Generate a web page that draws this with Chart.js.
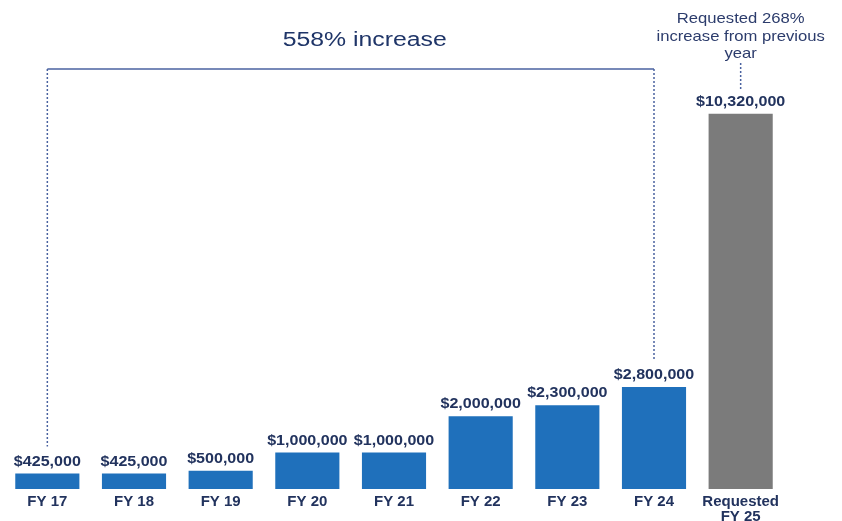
<!DOCTYPE html>
<html>
<head>
<meta charset="utf-8">
<script src="https://cdn.jsdelivr.net/npm/chart.js@4"></script>
<style>
  html, body { margin: 0; padding: 0; background: #ffffff; }
  #wrap { width: 842px; height: 521px; position: relative; }
</style>
</head>
<body>
<div id="wrap"><canvas id="c"></canvas></div>
<script>
// Budget by fiscal year
const categories = ['FY 17', 'FY 18', 'FY 19', 'FY 20', 'FY 21', 'FY 22', 'FY 23', 'FY 24', ['Requested', 'FY 25']];
const amounts = [425000, 425000, 500000, 1000000, 1000000, 2000000, 2300000, 2800000, 10320000];
const barColors = ['#1f70bb', '#1f70bb', '#1f70bb', '#1f70bb', '#1f70bb', '#1f70bb', '#1f70bb', '#1f70bb', '#7b7b7b'];
const valueLabels = ['$425,000', '$425,000', '$500,000', '$1,000,000', '$1,000,000', '$2,000,000', '$2,300,000', '$2,800,000', '$10,320,000'];
const bracketText = '558% increase';
const requestNote = ['Requested 268%', 'increase from previous', 'year'];

const NAVY = '#22335e';
const LINE = '#4a62a0';

// text drawn with a slight horizontal stretch
function wideText(ctx, text, x, y, sx) {
  ctx.save();
  ctx.translate(x, y);
  ctx.scale(sx, 1);
  ctx.fillText(text, 0, 0);
  ctx.restore();
}

const annotations = {
  id: 'annotations',
  afterDatasetsDraw(chart) {
    const ctx = chart.ctx;
    const bars = chart.getDatasetMeta(0).data;

    // value labels above each bar
    ctx.save();
    ctx.fillStyle = NAVY;
    ctx.font = 'bold 15px "Liberation Sans", Arial, sans-serif';
    ctx.textAlign = 'center';
    ctx.textBaseline = 'middle';
    bars.forEach((b, i) => wideText(ctx, valueLabels[i], b.x, b.y - 12, 1.07));
    ctx.restore();

    // bracket from the first year to FY 24
    const first = bars[0], last = bars[7];
    const topY = 69;
    ctx.save();
    ctx.strokeStyle = LINE;
    ctx.lineWidth = 1.5;
    ctx.beginPath();
    ctx.moveTo(first.x, topY);
    ctx.lineTo(last.x, topY);
    ctx.stroke();
    ctx.setLineDash([2, 2]);
    ctx.beginPath();
    ctx.moveTo(first.x, topY);
    ctx.lineTo(first.x, first.y - 27);
    ctx.moveTo(last.x, topY);
    ctx.lineTo(last.x, last.y - 27);
    ctx.stroke();

    // leader above the requested bar
    const req = bars[8];
    ctx.beginPath();
    ctx.moveTo(req.x, 63);
    ctx.lineTo(req.x, req.y - 24);
    ctx.stroke();
    ctx.restore();

    ctx.save();
    ctx.fillStyle = '#1f3568';
    ctx.textAlign = 'center';
    ctx.textBaseline = 'middle';
    ctx.font = '20px "Liberation Sans", Arial, sans-serif';
    wideText(ctx, bracketText, (first.x + last.x) / 2 + 14, 40, 1.24);
    ctx.fillStyle = '#2c3c6c';
    ctx.font = '15px "Liberation Sans", Arial, sans-serif';
    requestNote.forEach((line, i) => wideText(ctx, line, req.x, 19 + i * 17.5, 1.11));
    ctx.restore();
  }
};

new Chart(document.getElementById('c'), {
  type: 'bar',
  data: {
    labels: categories,
    datasets: [{
      data: amounts,
      backgroundColor: barColors,
      borderWidth: 0,
      barPercentage: 0.74,
      categoryPercentage: 1.0
    }]
  },
  options: {
    responsive: true,
    maintainAspectRatio: false,
    animation: false,
    layout: { padding: { left: 4, right: 58, top: 89, bottom: -9 } },
    plugins: { legend: { display: false }, tooltip: { enabled: false } },
    scales: {
      x: {
        grid: { display: false, drawTicks: false },
        border: { display: false },
        ticks: {
          color: NAVY,
          padding: 6,
          maxRotation: 0,
          autoSkip: false,
          font: { family: '"Liberation Sans", Arial, sans-serif', size: 15, weight: 'bold', lineHeight: 0.97 }
        }
      },
      y: {
        display: false,
        min: 0,
        max: 11000000
      }
    }
  },
  plugins: [annotations]
});
</script>
</body>
</html>
